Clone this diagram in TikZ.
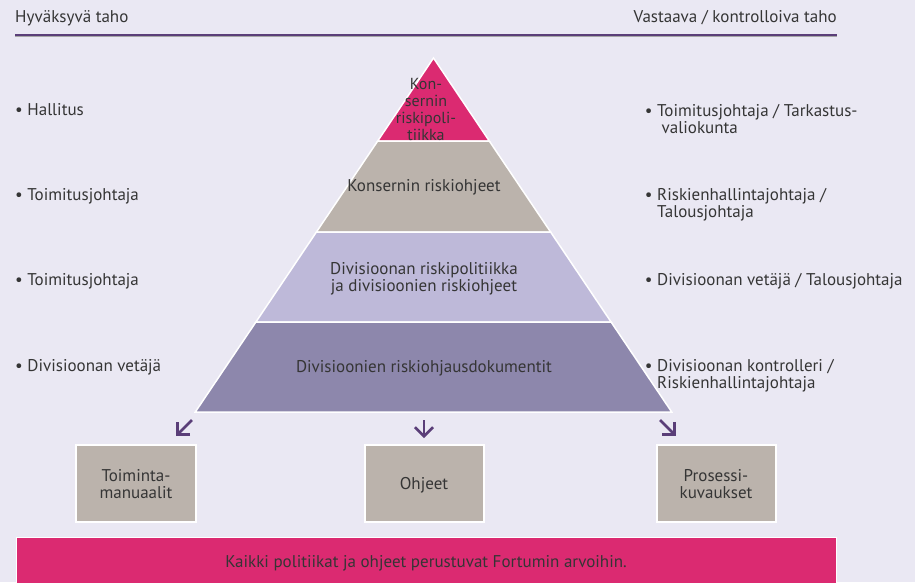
\documentclass[tikz,border=0pt]{standalone}
\usepackage{fontspec}
\setmainfont{PT Sans}
\usetikzlibrary{arrows.meta}
\definecolor{bg}{HTML}{EAE8F3}
\definecolor{pinkc}{HTML}{DB2A71}
\definecolor{tanc}{HTML}{BBB3AC}
\definecolor{lavc}{HTML}{BEB9D9}
\definecolor{purc}{HTML}{8D87AC}
\definecolor{darkp}{HTML}{5A3E78}
\definecolor{txt}{HTML}{353535}
\begin{document}
\begin{tikzpicture}[x=1pt,y=-1pt,
  every node/.style={text=txt, font=\fontsize{17}{17}\selectfont, inner sep=0pt},
  band/.style={draw=white, line width=1.5pt, line join=miter},
  boxst/.style={fill=tanc, draw=white, line width=1.5pt},
  arr/.style={draw=darkp, line width=2.6pt, -{Straight Barb[length=9pt,width=18pt]}},
  ml/.style={align=left, anchor=west},
  smalltxt/.style={align=center, font=\fontsize{16}{17}\selectfont},
]
\useasboundingbox (0,0) rectangle (915,582);
\fill[bg] (0,0) rectangle (915,582);
% header
\node[anchor=west] (hl) at (15,18) {Hyväksyvä taho};
\node[anchor=east] (hr) at (837,18) {Vastaava / kontrolloiva taho};
\draw[darkp, line width=2.5pt] (15,35) -- (837,35);
\draw[black!35, line width=0.8pt] (15,36.8) -- (837,36.8);
% pyramid
\path[band, fill=pinkc] (433.5,58) -- (489.3,141) -- (377.7,141) -- cycle;
\path[band, fill=tanc] (377.7,141) -- (489.3,141) -- (550.6,232) -- (316.4,232) -- cycle;
\path[band, fill=lavc] (316.4,232) -- (550.6,232) -- (611.1,322) -- (255.9,322) -- cycle;
\path[band, fill=purc] (255.9,322) -- (611.1,322) -- (671.7,412) -- (195.3,412) -- cycle;
\node[smalltxt] (p1) at (426,109) {Kon-\\sernin\\riskipoli-\\tiikka};
\node (p2) at (424,187) {Konsernin riskiohjeet};
\node[align=center] (p3) at (424,279) {Divisioonan riskipolitiikka\\ja divisioonien riskiohjeet};
\node (p4) at (424,368) {Divisioonien riskiohjausdokumentit};
% left column
\node[anchor=west] (l1) at (15,110) {• Hallitus};
\node[anchor=west] (l2) at (15,196) {• Toimitusjohtaja};
\node[anchor=west] (l3) at (15,281) {• Toimitusjohtaja};
\node[anchor=west] (l4) at (15,367) {• Divisioonan vetäjä};
% right column
\node[ml] (r1) at (657,119) {\llap{•\ }Toimitusjohtaja / Tarkastus-\\\ valiokunta};
\node[ml] (r2) at (657,205) {\llap{•\ }Riskienhallintajohtaja /\\Talousjohtaja};
\node[ml] (r3) at (657,281) {\llap{•\ }Divisioonan vetäjä / Talousjohtaja};
\node[ml] (r4) at (657,376) {\llap{•\ }Divisioonan kontrolleri /\\Riskienhallintajohtaja};
% boxes
\path[boxst] (76,445) rectangle (196,522);
\path[boxst] (365,445) rectangle (484,522);
\path[boxst] (657,445) rectangle (776,522);
\node[align=center] (b1) at (136,484) {Toiminta-\\manuaalit};
\node (b2) at (424,485) {Ohjeet};
\node[align=center] (b3) at (716,484) {Prosessi-\\kuvaukset};
% arrows
\coordinate (a1s) at (192,420);
\coordinate (a1e) at (176,436);
\coordinate (a2s) at (424,420);
\coordinate (a2e) at (424,438);
\coordinate (a3s) at (660,420);
\coordinate (a3e) at (676,436);
\draw[arr] (a1s) -- (a1e);
\draw[arr] (a2s) -- (a2e);
\draw[arr] (a3s) -- (a3e);
% bottom bar
\path[fill=pinkc, draw=white, line width=1pt] (16,537) rectangle (836,584);
\node (bar) at (426,563) {Kaikki politiikat ja ohjeet perustuvat Fortumin arvoihin.};
\end{tikzpicture}
\end{document}
